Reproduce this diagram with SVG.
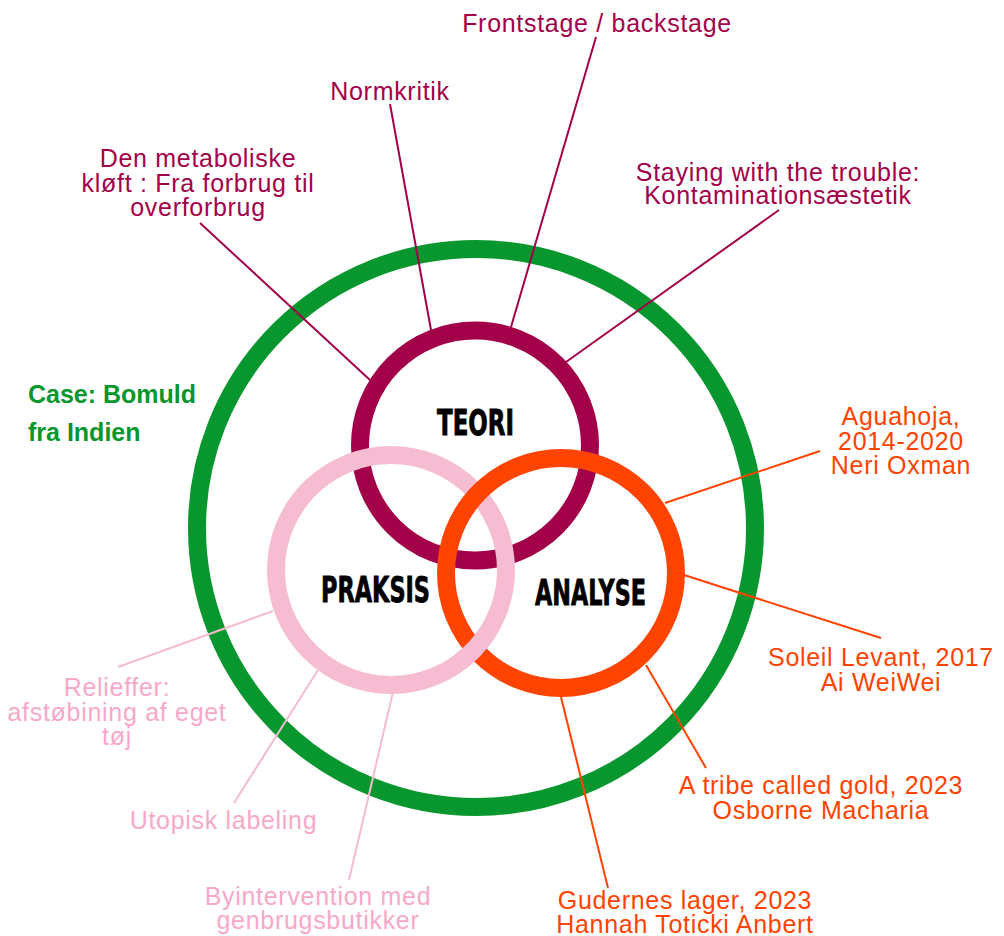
<svg xmlns="http://www.w3.org/2000/svg" width="1004" height="936" viewBox="0 0 1004 936">
<style>
.lbl{font-family:"Liberation Sans","DejaVu Sans",sans-serif;font-size:25px;text-anchor:middle;letter-spacing:0.7px}
.teo{fill:#A3004A}
.ana{fill:#FF4300}
.pra{fill:#F8A8C9}
.case{font-family:"Liberation Sans",sans-serif;font-size:25px;font-weight:bold;fill:#08962F}
.big{font-family:"Liberation Sans Narrow","DejaVu Sans Condensed",sans-serif;font-size:36px;font-weight:900;fill:#000;text-anchor:middle;stroke:#000;stroke-width:0.8}
.ring{fill:none;stroke-width:18}
.c-teo{stroke:#A3004A;stroke-width:2;fill:none}
.c-ana{stroke:#FF4300;stroke-width:2;fill:none}
.c-pra{stroke:#F5BCD0;stroke-width:2;fill:none}
</style>
<rect width="1004" height="936" fill="#fff"/>
<g id="case">
<circle class="ring" cx="476" cy="528" r="279" stroke="#08962F"/>
<text class="case" x="28" y="403">Case: Bomuld</text>
<text class="case" x="28" y="441">fra Indien</text>
</g>
<g id="teori">
<circle class="ring" cx="475" cy="445.5" r="115" stroke="#A3004A"/>
<text class="big" x="475.5" y="435" textLength="77" lengthAdjust="spacingAndGlyphs">TEORI</text>
</g>
<g id="praksis">
<circle class="ring" cx="391" cy="570" r="115" stroke="#F5BCD2"/>
<text class="big" x="375.5" y="602" textLength="109" lengthAdjust="spacingAndGlyphs">PRAKSIS</text>
</g>
<g id="analyse">
<circle class="ring" cx="561" cy="573" r="115" stroke="#FF4300"/>
<path class="ring" d="M487.4 632.6 A115 115 0 0 1 460.2 661.8" stroke="#F5BCD2"/>
<text class="big" x="590.5" y="605" textLength="111" lengthAdjust="spacingAndGlyphs">ANALYSE</text>
</g>
<g id="connectors">
<line class="c-teo" x1="596" y1="37" x2="511" y2="327"/>
<line class="c-teo" x1="390" y1="104" x2="431" y2="330"/>
<line class="c-teo" x1="200" y1="223" x2="370" y2="380"/>
<line class="c-teo" x1="779" y1="210" x2="566" y2="362"/>
<line class="c-ana" x1="820" y1="451" x2="665" y2="503"/>
<line class="c-ana" x1="684" y1="575" x2="881" y2="638"/>
<line class="c-ana" x1="646" y1="665" x2="706" y2="768"/>
<line class="c-ana" x1="561" y1="697" x2="608" y2="888"/>
<line class="c-pra" x1="118" y1="667" x2="273" y2="611"/>
<line class="c-pra" x1="234" y1="803" x2="318" y2="670"/>
<line class="c-pra" x1="349" y1="880" x2="393" y2="692"/>
</g>
<g id="frontstage"><text class="lbl teo" x="597" y="32">Frontstage / backstage</text></g>
<g id="normkritik"><text class="lbl teo" x="390" y="100">Normkritik</text></g>
<g id="metaboliske"><text class="lbl teo" x="198" y="167"><tspan x="198">Den metaboliske</tspan><tspan x="198" y="192">kløft : Fra forbrug til</tspan><tspan x="198" y="216">overforbrug</tspan></text></g>
<g id="staying"><text class="lbl teo" x="778" y="181"><tspan x="778">Staying with the trouble:</tspan><tspan x="778" y="204">Kontaminationsæstetik</tspan></text></g>
<g id="aguahoja"><text class="lbl ana" x="901" y="425"><tspan x="901">Aguahoja,</tspan><tspan x="901" y="450">2014-2020</tspan><tspan x="901" y="474">Neri Oxman</tspan></text></g>
<g id="soleil"><text class="lbl ana" x="881" y="666"><tspan x="881">Soleil Levant, 2017</tspan><tspan x="881" y="691">Ai WeiWei</tspan></text></g>
<g id="tribe"><text class="lbl ana" x="821" y="794"><tspan x="821">A tribe called gold, 2023</tspan><tspan x="821" y="819">Osborne Macharia</tspan></text></g>
<g id="gudernes"><text class="lbl ana" x="685" y="909"><tspan x="685">Gudernes lager, 2023</tspan><tspan x="685" y="933">Hannah Toticki Anbert</tspan></text></g>
<g id="relieffer"><text class="lbl pra" x="117" y="696"><tspan x="117">Relieffer:</tspan><tspan x="117" y="721">afstøbining af eget</tspan><tspan x="117" y="745">tøj</tspan></text></g>
<g id="utopisk"><text class="lbl pra" x="223.5" y="829">Utopisk labeling</text></g>
<g id="byintervention"><text class="lbl pra" x="318" y="905"><tspan x="318">Byintervention med</tspan><tspan x="318" y="929">genbrugsbutikker</tspan></text></g>
</svg>
